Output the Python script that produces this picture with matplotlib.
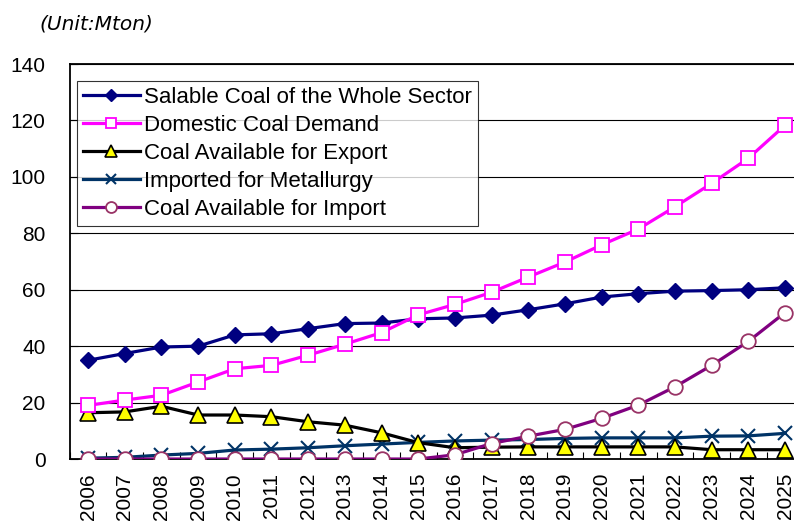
import matplotlib
matplotlib.use("Agg")
import matplotlib.pyplot as plt
import numpy as np

plt.rcParams['font.family'] = ['Liberation Sans', 'DejaVu Sans']

years = [str(y) for y in range(2006, 2026)]

salable = [35.0, 37.4, 39.7, 40.0, 44.0, 44.4, 46.2, 48.0, 48.2, 49.7,
           50.0, 51.0, 52.9, 55.0, 57.4, 58.6, 59.5, 59.7, 60.0, 60.7]
demand = [19.0, 20.9, 22.6, 27.3, 32.0, 33.2, 36.8, 40.7, 44.8, 51.1,
          54.8, 59.1, 64.5, 69.8, 75.9, 81.5, 89.4, 97.7, 106.6, 118.3]
export = [16.4, 16.7, 18.7, 15.6, 15.6, 15.0, 13.2, 12.0, 9.3, 5.8,
          4.0, 4.2, 4.3, 4.3, 4.3, 4.3, 4.3, 3.3, 3.3, 3.3]
metallurgy = [0.3, 0.6, 1.4, 2.0, 3.2, 3.5, 4.0, 4.7, 5.3, 5.9,
              6.4, 6.7, 6.9, 7.3, 7.5, 7.5, 7.5, 8.1, 8.2, 9.1]
imports = [0.0, 0.0, 0.0, 0.0, 0.0, 0.0, 0.0, 0.0, 0.0, 0.0,
           1.5, 5.5, 8.1, 10.5, 14.4, 19.1, 25.6, 33.2, 41.7, 51.9]

x = np.arange(len(years))

fig = plt.figure(figsize=(7.94, 5.24), dpi=100)
ax = fig.add_axes([0.0878, 0.124, 0.924, 0.7538])

lw = 2.3
ax.plot(x, salable, color='#000080', lw=lw, marker='D', ms=8.3,
        mfc='#000080', mec='#000080', label='Salable Coal of the Whole Sector', zorder=5)
ax.plot(x, demand, color='#FF00FF', lw=lw, marker='s', ms=10.5,
        mfc='white', mec='#FF00FF', mew=1.3, label='Domestic Coal Demand', zorder=6)
ax.plot(x, export, color='black', lw=lw, marker='^', ms=11.5,
        mfc='#FFFF00', mec='black', mew=1.2, label='Coal Available for Export', zorder=4)
ax.plot(x, metallurgy, color='#003366', lw=lw, marker='x', ms=10.5,
        mew=1.5, label='Imported for Metallurgy', zorder=3)
ax.plot(x, imports, color='#800080', lw=lw, marker='o', ms=10.5,
        mfc='white', mec='#993366', mew=1.3, label='Coal Available for Import', zorder=4)

ax.set_xlim(-0.5, len(years) - 0.5)
ax.set_ylim(0, 140)
ax.set_yticks(range(0, 141, 20))
ax.yaxis.grid(True, color='black', lw=0.8)
ax.set_axisbelow(True)

ax.set_xticks(x)
ax.set_xticklabels(years, rotation=90, fontsize=15)
ax.set_xticks(np.arange(-0.5, len(years), 1), minor=True)
ax.tick_params(axis='x', which='major', length=0, pad=10)
ax.tick_params(axis='x', which='minor', direction='in', length=5, width=0.8)
ax.tick_params(axis='y', direction='in', length=6, width=0.8, labelsize=15, pad=17.5)

for s in ax.spines.values():
    s.set_linewidth(1.3)
    s.set_color('black')

# legend markers are drawn a bit smaller than the ones on the lines
leg = ax.legend(loc='upper left', bbox_to_anchor=(0.01, 0.957), borderaxespad=0,
                fontsize=16, frameon=True, fancybox=False, edgecolor='black',
                handlelength=2.55, handletextpad=0.2, labelspacing=0.31,
                borderpad=0.27, markerscale=0.75)
leg.get_frame().set_linewidth(0.8)

fig.text(0.05, 0.955, '(Unit:Mton)', fontsize=14.5, style='italic', va='center',
         family='DejaVu Sans')

fig.savefig('out.png', dpi=100)
